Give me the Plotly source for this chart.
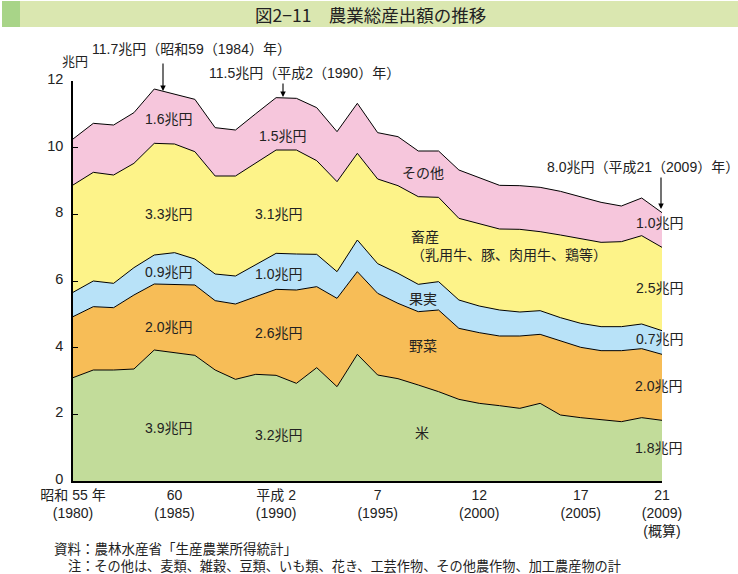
import plotly.graph_objects as go

years = list(range(1980, 2010))

rice = [3.10, 3.33, 3.33, 3.36, 3.93, 3.85, 3.77, 3.33, 3.05, 3.20,
        3.17, 2.93, 3.40, 2.83, 3.80, 3.18, 3.07, 2.88, 2.68, 2.45,
        2.33, 2.26, 2.18, 2.33, 1.98, 1.90, 1.83, 1.78, 1.90, 1.82]
vegetables = [1.83, 1.90, 1.87, 2.22, 1.98, 2.05, 2.11, 2.08, 2.26, 2.33,
              2.58, 2.80, 2.43, 2.65, 2.48, 2.45, 2.26, 2.20, 2.45, 2.13,
              2.12, 2.09, 2.17, 2.07, 2.22, 2.11, 2.08, 2.13, 2.07, 1.98]
fruit = [0.73, 0.77, 0.73, 0.82, 0.87, 0.95, 0.78, 0.80, 0.84, 0.95,
         1.08, 1.08, 0.97, 0.80, 0.95, 0.89, 0.90, 0.82, 0.85, 0.85,
         0.80, 0.78, 0.72, 0.71, 0.70, 0.72, 0.72, 0.72, 0.74, 0.71]
livestock = [3.22, 3.26, 3.25, 3.13, 3.35, 3.26, 3.22, 2.94, 3.00, 3.05,
             3.10, 3.12, 2.81, 2.70, 2.60, 2.54, 2.63, 2.63, 2.53, 2.45,
             2.46, 2.43, 2.48, 2.37, 2.48, 2.53, 2.53, 2.55, 2.65, 2.50]
other = [1.38, 1.47, 1.50, 1.52, 1.63, 1.50, 1.57, 1.45, 1.38, 1.49,
         1.57, 1.55, 1.59, 1.50, 1.50, 1.39, 1.47, 1.37, 1.39, 1.45,
         1.38, 1.31, 1.31, 1.33, 1.31, 1.27, 1.20, 1.07, 1.13, 1.04]

series_names = ["米", "野菜", "果実", "畜産", "その他"]
series_colors = ["#c2dc9a", "#f7bd57", "#b8e2f8", "#fdf389", "#f6c6dc"]

tick_vals = [1980, 1985, 1990, 1995, 2000, 2005, 2009]
tick_text = ["昭和 55 年<br>(1980)", "60<br>(1985)", "平成 2<br>(1990)", "7<br>(1995)",
             "12<br>(2000)", "17<br>(2005)", "21<br>(2009)<br>(概算)"]

FONT = "Liberation Sans, 'Noto Sans CJK JP', sans-serif"
JFONT = "'Noto Sans CJK JP', sans-serif"

W, H = 738, 574
L, R, T, B = 73, 662, 81, 481


def px(x):
    return (x - L) / (R - L)


def py(y):
    return (B - y) / (B - T)


fig = go.Figure()
for name, vals, col in zip(series_names, [rice, vegetables, fruit, livestock, other], series_colors):
    fig.add_trace(go.Scatter(
        x=years, y=vals, name=name, stackgroup="one", mode="lines",
        line=dict(color="black", width=1), fillcolor=col, hoverinfo="skip"))

annotations = []


def txt(x, y, s, size=14, xanchor="center", family=FONT, align="center"):
    annotations.append(dict(x=px(x), y=py(y), xref="paper", yref="paper", text=s,
                            showarrow=False, xanchor=xanchor, yanchor="middle", align=align,
                            font=dict(size=size, family=family, color="#222")))


def arrow(x, y0, y1):
    annotations.append(dict(x=px(x), y=py(y1), xref="paper", yref="paper", text="",
                            showarrow=True, ax=0, ay=y0 - y1, axref="pixel", ayref="pixel",
                            arrowhead=2, arrowsize=1.0, arrowwidth=1.1, arrowcolor="black"))


# segment labels
txt(168, 119, "1.6兆円")
txt(282, 136, "1.5兆円")
txt(168, 214, "3.3兆円")
txt(278, 214, "3.1兆円")
txt(168, 272, "0.9兆円")
txt(278, 274, "1.0兆円")
txt(168, 327, "2.0兆円")
txt(278, 333, "2.6兆円")
txt(168, 428, "3.9兆円")
txt(278, 435, "3.2兆円")
txt(423, 173, "その他")
txt(409, 246, "畜産<br>（乳用牛、豚、肉用牛、鶏等）", xanchor="left", align="left")
txt(423, 299, "果実")
txt(423, 346, "野菜")
txt(422, 433, "米")
txt(659, 223, "1.0兆円")
txt(659, 288, "2.5兆円")
txt(659, 339, "0.7兆円")
txt(658, 386, "2.0兆円")
txt(658, 448, "1.8兆円")

# peak callouts
txt(191, 49, "11.7兆円（昭和59（1984）年）")
arrow(163, 62, 91)
txt(304, 73, "11.5兆円（平成2（1990）年）")
arrow(283, 82, 97)
txt(643, 167, "8.0兆円（平成21（2009）年）")
arrow(661, 176, 209)

# unit
txt(75, 62, "兆円", size=13)

# title
txt(370, 15, "図2−11　農業総産出額の推移", size=17.5, family=JFONT)

# footnotes
txt(52, 548, "資料：農林水産省「生産農業所得統計」", size=13.5, xanchor="left", family=JFONT)
txt(66, 565, "注：その他は、麦類、雑穀、豆類、いも類、花き、工芸作物、その他農作物、加工農産物の計",
    size=13.2, xanchor="left", family=JFONT)

shapes = [
    dict(type="rect", xref="paper", yref="paper", x0=px(2), x1=px(738), y0=py(27), y1=py(1),
         fillcolor="#dae7b0", line=dict(width=0), layer="below"),
    dict(type="rect", xref="paper", yref="paper", x0=px(2), x1=px(20), y0=py(27), y1=py(1),
         fillcolor="#a8d488", line=dict(width=0), layer="below"),
]

fig.update_layout(
    width=W, height=H,
    margin=dict(l=L, r=W - R, t=T, b=H - B, pad=0),
    paper_bgcolor="white", plot_bgcolor="white",
    showlegend=False,
    font=dict(family=FONT, size=14, color="#222"),
    annotations=annotations,
    shapes=shapes,
    xaxis=dict(range=[1980, 2009], tickvals=tick_vals, ticktext=tick_text,
               showgrid=False, zeroline=False, showline=True, linecolor="black", linewidth=1.5,
               ticks="", tickfont=dict(size=14, family=FONT)),
    yaxis=dict(range=[0, 12], tickvals=[0, 2, 4, 6, 8, 10, 12], showgrid=False, zeroline=False,
               showline=True, linecolor="black", linewidth=1.5, ticks="inside", ticklen=5,
               tickcolor="black", tickwidth=1.2, tickfont=dict(size=14.5, family=FONT),
               ticklabelstandoff=5, ticklabelshift=-2),
)

fig.write_html("out.html", config={"displayModeBar": False},
               post_script="document.body.style.margin='0';document.body.style.overflow='hidden';")
